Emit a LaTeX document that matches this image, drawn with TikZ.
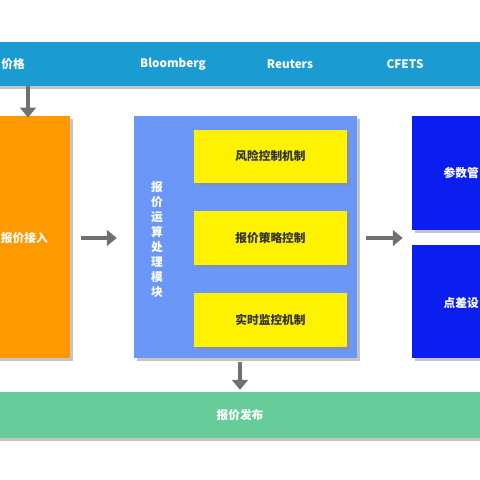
\documentclass[tikz,border=0pt]{standalone}
\usepackage{fontspec}
\newfontfamily\cjk{Noto Sans CJK SC}
\usetikzlibrary{arrows.meta, positioning, shadows, calc}
\definecolor{barblue}{HTML}{1A9CD3}
\definecolor{inorange}{HTML}{FF9900}
\definecolor{calcblue}{HTML}{6A97F8}
\definecolor{parblue}{HTML}{0A1EF0}
\definecolor{pubgreen}{HTML}{66CC99}
\definecolor{arrgray}{HTML}{707070}
\tikzset{
  block/.style={inner sep=0pt, font=\cjk\bfseries\fontsize{10}{12}\selectfont, text=white,
    drop shadow={shadow xshift=2.5pt, shadow yshift=-2.5pt, fill=black!45, opacity=0.5}},
  sub/.style={block, fill=yellow, text=black!80, minimum width=4.59cm, minimum height=1.6cm},
  label/.style={font=\cjk\bfseries\fontsize{10}{12}\selectfont, text=white, inner sep=0pt},
  flow/.style={arrgray, line width=4.2pt, -{Triangle[width=13.5pt, length=8.5pt]}},
}
\begin{document}
\begin{tikzpicture}[x=0.03cm, y=-0.03cm]
  \useasboundingbox (0,0) rectangle (480,480);
  \clip (0,0) rectangle (480,480);
  % source bar (top)
  \node[block, fill=barblue, minimum width=15cm, minimum height=1.32cm] (src) at (240,64) {};
  \node[label, anchor=east] (srcname) at (25,64) {价格};
  \node[label] (bbg) at (173,64) {Bloomberg};
  \node[label] (rtr) at (290,64) {Reuters};
  \node[label] (cfets) at (405,64) {CFETS};

  % quote input (left)
  \node[block, fill=inorange, minimum width=3cm, minimum height=7.26cm] (inflow) at (20,237) {};
  \node[label, anchor=east] (inname) at (48,238) {报价接入};

  % calculation module (centre)
  \node[block, fill=calcblue, minimum width=6.69cm, minimum height=7.26cm] (calc) at (245.5,237) {};
  \node[label, font=\cjk\bfseries\fontsize{10}{12.8}\selectfont, align=center] (calcname) at (157,240)
    {报\\价\\运\\算\\处\\理\\模\\块};
  \node[sub] (risk) at (270.5,156.5) {风险控制机制};
  \node[sub] (strat) at (270.5,238) {报价策略控制};
  \node[sub] (watch) at (270.5,320) {实时监控机制};

  % parameter boxes (right)
  \node[block, fill=parblue, minimum width=3.24cm, minimum height=3.42cm] (param) at (466,173) {};
  \node[label, anchor=east] (paramname) at (479,173) {参数管};
  \node[block, fill=parblue, minimum width=3.24cm, minimum height=3.39cm] (spread) at (466,301.5) {};
  \node[label, anchor=east] (spreadname) at (479,303) {点差设};

  % publishing bar (bottom)
  \node[block, fill=pubgreen, minimum width=15cm, minimum height=1.38cm] (pub) at (240,415) {报价发布};

  % arrows
  \coordinate (xa) at (28,0);
  \coordinate (xb) at (240,0);
  \coordinate (ya) at (0,238);
  \draw[flow] (src.south -| xa) -- ([yshift=-1.5pt]inflow.north -| xa);
  \draw[flow, shorten <=9.4pt, shorten >=14.5pt] (inflow.east |- ya) -- (calc.west |- ya);
  \draw[flow, shorten <=7.7pt, shorten >=7.7pt] (calc.east |- ya) -- (param.west |- ya);
  \draw[flow, shorten <=3.4pt, shorten >=1.7pt] (calc.south -| xb) -- (pub.north -| xb);
\end{tikzpicture}
\end{document}
